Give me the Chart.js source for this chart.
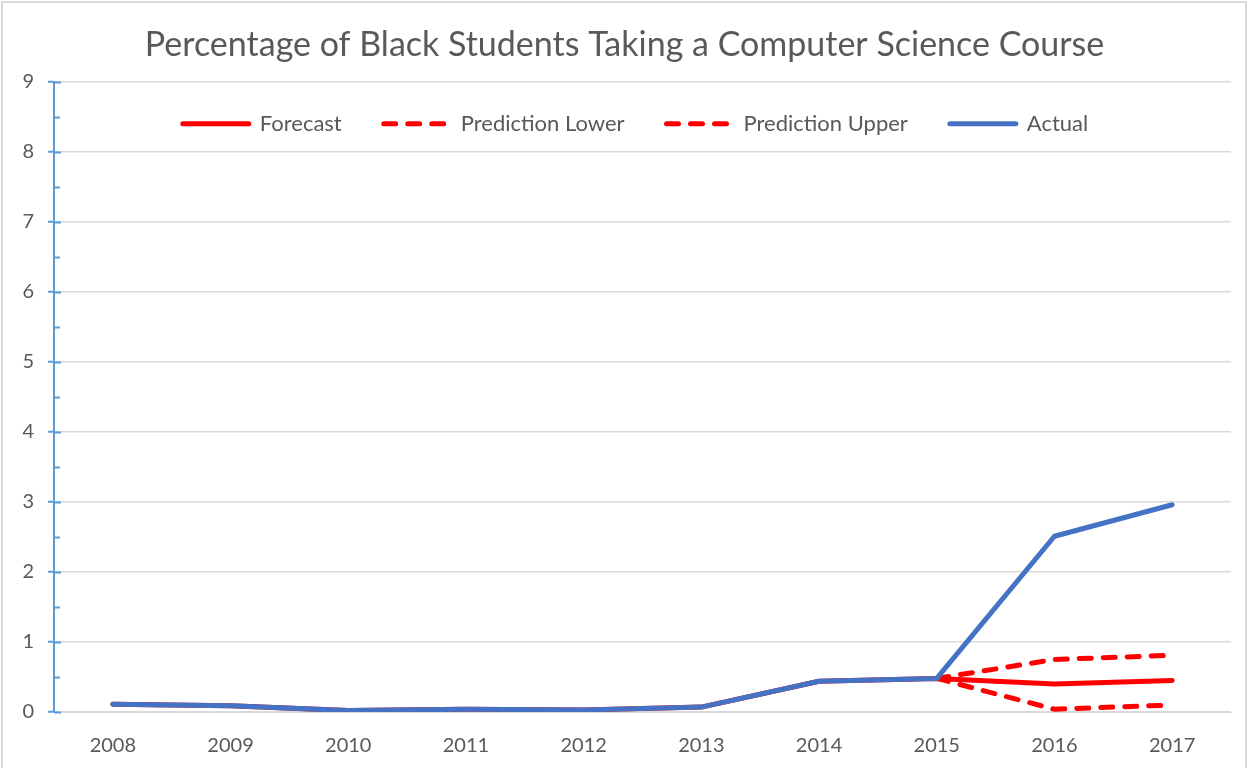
<!DOCTYPE html>
<html>
<head>
<meta charset="utf-8">
<script src="https://cdn.jsdelivr.net/npm/chart.js@4.4.1/dist/chart.umd.min.js"></script>
<style>
  html, body { margin: 0; padding: 0; background: #fff; }
  #frame {
    position: absolute; left: 1px; top: 1px; width: 1246px; height: 800px;
    border: 2px solid #d9d9d9; border-bottom: none; box-sizing: border-box;
  }
  #wrap { position: absolute; left: 0; top: 0; width: 1250px; height: 768px; }
</style>
</head>
<body>
<div id="frame"></div>
<div id="wrap"><canvas id="chart" width="1250" height="768"></canvas></div>
<script>
// Dados
const years = ['2008', '2009', '2010', '2011', '2012', '2013', '2014', '2015', '2016', '2017'];
const forecast = [0.11, 0.09, 0.02, 0.04, 0.03, 0.07, 0.44, 0.48, 0.40, 0.45];
const predLower = [null, null, null, null, null, null, null, 0.48, 0.04, 0.10];
const predUpper = [null, null, null, null, null, null, null, 0.48, 0.75, 0.81];
const actual = [0.11, 0.09, 0.02, 0.04, 0.03, 0.07, 0.44, 0.48, 2.51, 2.96];

const RED = '#ff0000';
const BLUE = '#4472c4';
const AXIS_BLUE = '#5b9bd5';
const GRID = '#d9d9d9';
const TEXT = '#595959';
const FONT = 'Lato';

// legenda dentro da área do gráfico, título centrado na página
const insideLegend = {
    id: 'insideLegend',
    afterInit(chart) {
        const fit = chart.legend.fit;
        chart.legend.fit = function () {
            fit.call(this);
            this.height = 0;
        };
    },
    afterLayout(chart) {
        const lg = chart.legend;
        lg.top = chart.chartArea.top - 11;
        lg.bottom = lg.top + 90;
        lg.left += 20;
        lg.right += 20;
        const tb = chart.titleBlock;
        tb.left += 9;
        tb.right += 9;
    }
};

// ticks internos do eixo Y (principais e secundários)
const innerTicks = {
    id: 'innerTicks',
    afterDraw(chart) {
        const y = chart.scales.y;
        const ctx = chart.ctx;
        const x0 = chart.chartArea.left;
        ctx.save();
        ctx.strokeStyle = AXIS_BLUE;
        ctx.lineWidth = 2;
        for (let v = 0; v <= 9; v += 0.5) {
            const py = Math.round(y.getPixelForValue(v)) + 0.5;
            const len = Number.isInteger(v) ? 7 : 6;
            ctx.beginPath();
            ctx.moveTo(x0, py);
            ctx.lineTo(x0 + len, py);
            ctx.stroke();
        }
        ctx.restore();
    }
};

const dashed = [12, 12];

function redLine(label, data, dash) {
    return {
        label: label,
        data: data,
        borderColor: RED,
        backgroundColor: RED,
        borderWidth: 5,
        borderDash: dash,
        borderCapStyle: 'round',
        borderJoinStyle: 'round',
        pointRadius: 0,
        order: 1
    };
}

new Chart(document.getElementById('chart'), {
    type: 'line',
    data: {
        labels: years,
        datasets: [
            redLine('Forecast', forecast, []),
            redLine('Prediction Lower', predLower, dashed),
            redLine('Prediction Upper', predUpper, dashed),
            {
                label: 'Actual',
                data: actual,
                borderColor: BLUE,
                backgroundColor: BLUE,
                borderWidth: 5,
                borderCapStyle: 'round',
                borderJoinStyle: 'round',
                pointRadius: 0,
                order: 0
            }
        ]
    },
    options: {
        responsive: false,
        animation: false,
        layout: { padding: { left: 0, right: 19, top: 0, bottom: 0 } },
        scales: {
            x: {
                offset: true,
                grid: { display: false, drawTicks: false },
                border: { color: GRID, width: 1 },
                ticks: { color: TEXT, font: { family: FONT, size: 20 }, padding: 22, maxRotation: 0 },
                afterFit(scale) { scale.height = 56; }
            },
            y: {
                min: 0,
                max: 9,
                ticks: {
                    stepSize: 0.5,
                    color: TEXT,
                    font: { family: FONT, size: 20 },
                    padding: 14,
                    callback: (v) => Number.isInteger(v) ? v : ''
                },
                grid: {
                    color: (c) => Number.isInteger(c.tick.value) ? GRID : 'rgba(0,0,0,0)',
                    tickColor: (c) => Number.isInteger(c.tick.value) ? AXIS_BLUE : 'rgba(0,0,0,0)',
                    tickLength: 6,
                    tickWidth: 2,
                    lineWidth: 1.5
                },
                border: { color: AXIS_BLUE, width: 2 },
                afterFit(scale) { scale.width = 54; }
            }
        },
        plugins: {
            title: {
                display: true,
                text: 'Percentage of Black Students Taking a Computer Science Course',
                color: TEXT,
                font: { family: FONT, size: 34, weight: 'normal' },
                padding: { top: 25, bottom: 16 }
            },
            legend: {
                position: 'top',
                labels: {
                    usePointStyle: true,
                    pointStyle: 'line',
                    pointStyleWidth: 66,
                    color: TEXT,
                    font: { family: FONT, size: 22 },
                    padding: 42,
                    sort: (a, b) => a.datasetIndex - b.datasetIndex,
                    generateLabels(chart) {
                        const items = Chart.defaults.plugins.legend.labels.generateLabels(chart);
                        items.forEach((it) => {
                            const ds = chart.data.datasets[it.datasetIndex];
                            it.lineDash = ds.borderDash || [];
                            it.lineCap = 'round';
                            it.lineWidth = 5;
                        });
                        return items;
                    }
                }
            },
            tooltip: { enabled: false }
        }
    },
    plugins: [insideLegend, innerTicks]
});
</script>
</body>
</html>
